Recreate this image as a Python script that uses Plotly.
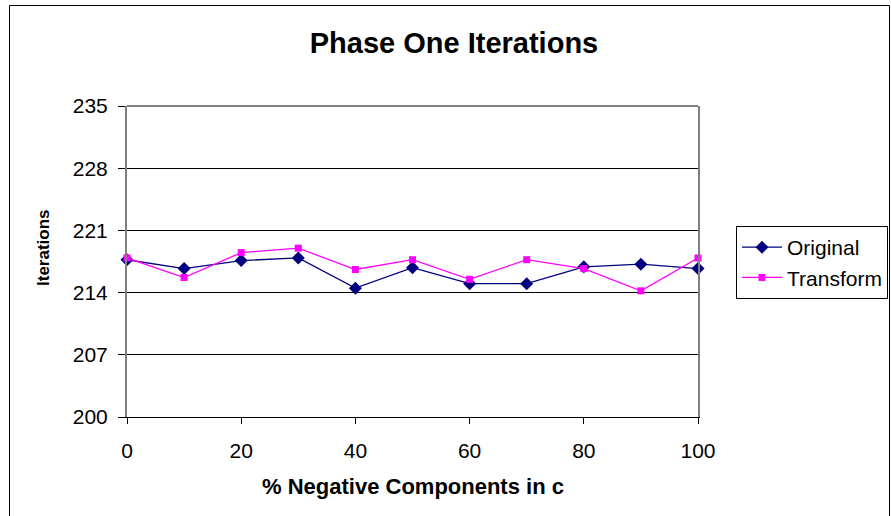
import plotly.graph_objects as go

# Percentage of negative components in c
pct_negative = [0, 10, 20, 30, 40, 50, 60, 70, 80, 90, 100]
# Phase-one iteration counts
original = [217.7, 216.7, 217.6, 217.9, 214.5, 216.8, 215.0, 215.0, 216.9, 217.2, 216.7]
transform = [217.9, 215.7, 218.5, 219.0, 216.6, 217.7, 215.5, 217.7, 216.7, 214.2, 217.9]

y_ticks = [200, 207, 214, 221, 228, 235]
x_ticks = [0, 20, 40, 60, 80, 100]

FONT = "Liberation Sans, Arial, sans-serif"
W, H = 891, 516
L, R, T, B = 127, 193, 106, 99
PW, PH = W - L - R, H - T - B

fig = go.Figure()
fig.add_trace(go.Scatter(
    x=pct_negative, y=original, name="Original", mode="lines+markers",
    line=dict(color="#000080", width=1.3),
    marker=dict(symbol="diamond", size=10, color="#000080"),
    cliponaxis=False,
))
fig.add_trace(go.Scatter(
    x=pct_negative, y=transform, name="Transform", mode="lines+markers",
    line=dict(color="#FF00FF", width=1.3),
    marker=dict(symbol="square", size=7, color="#FF00FF"),
    cliponaxis=False,
))

fig.update_layout(
    width=W, height=H,
    margin=dict(l=L, r=R, t=T, b=B, autoexpand=False),
    paper_bgcolor="white", plot_bgcolor="white",
    font=dict(family=FONT, size=21, color="black"),
    title=dict(text="<b>Phase One Iterations</b>", x=454 / W, xanchor="center",
               y=1 - 43 / H, yanchor="middle",
               font=dict(family=FONT, size=29, color="black")),
    showlegend=True,
    legend=dict(x=(736 - L) / PW, y=(H - B - 226) / PH, xanchor="left", yanchor="top",
                bordercolor="black", borderwidth=1, bgcolor="white",
                font=dict(family=FONT, size=21, color="black"),
                tracegroupgap=0, itemwidth=40),
    xaxis=dict(
        range=[0, 100], tickvals=x_ticks, ticktext=[str(v) for v in x_ticks],
        showgrid=False, zeroline=False,
        showline=True, linecolor="black", linewidth=1,
        ticks="outside", ticklen=6, tickcolor="black",
        ticklabelstandoff=9,
        tickfont=dict(family=FONT, size=21, color="black"),
    ),
    yaxis=dict(
        range=[200, 235], tickvals=y_ticks, ticktext=[str(v) for v in y_ticks],
        showgrid=True, gridcolor="black", gridwidth=1, zeroline=False,
        showline=True, linecolor="#808080", linewidth=2, mirror=True,
        ticks="outside", ticklen=7, tickcolor="black",
        ticklabelstandoff=6,
        tickfont=dict(family=FONT, size=21, color="black"),
    ),
    annotations=[
        dict(text="<b>% Negative Components in c</b>", xref="paper", yref="paper",
             x=(413 - L) / PW, y=-(486 - (H - B)) / PH, xanchor="center", yanchor="middle",
             showarrow=False, font=dict(family=FONT, size=22, color="black")),
        dict(text="<b>Iterations</b>", xref="paper", yref="paper", textangle=-90,
             x=-(L - 43) / PW, y=(H - B - 248) / PH, xanchor="center", yanchor="middle",
             showarrow=False, font=dict(family=FONT, size=17, color="black")),
    ],
    shapes=[
        # outer chart frame
        dict(type="rect", xref="paper", yref="paper",
             x0=(9.5 - L) / PW, x1=(889.5 - L) / PW,
             y0=-(530 - (H - B)) / PH, y1=(H - B - 5.5) / PH,
             line=dict(color="black", width=1), layer="below"),
        # top edge of the plot area
        dict(type="line", xref="paper", yref="paper", x0=0, x1=1, y0=1, y1=1,
             line=dict(color="#808080", width=2)),
    ],
)

fig.write_html("out.html")
